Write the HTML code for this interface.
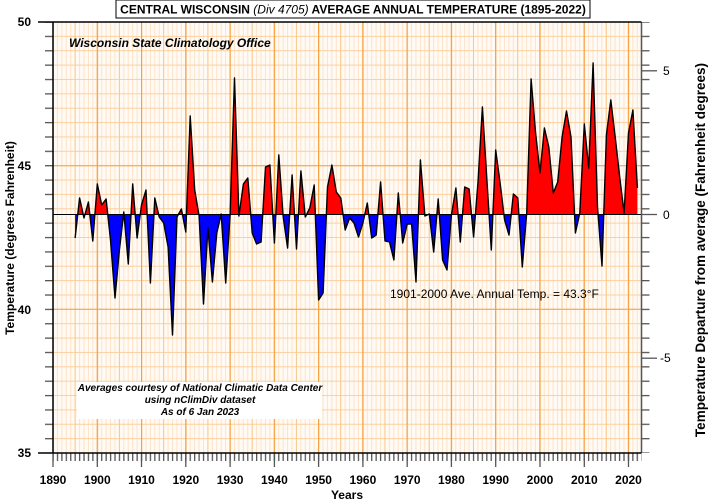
<!DOCTYPE html>
<html><head><meta charset="utf-8"><style>
html,body{margin:0;padding:0;background:#fff;}
svg{display:block;font-family:"Liberation Sans",Arial,sans-serif;}
</style></head><body>
<svg width="708" height="503" viewBox="0 0 708 503" xmlns="http://www.w3.org/2000/svg">
<defs>
<pattern id="v1" patternUnits="userSpaceOnUse" x="52.5" y="0" width="4.426" height="10"><rect x="0" y="0" width="1" height="10" fill="#fde3c8"/></pattern>
<pattern id="v5" patternUnits="userSpaceOnUse" x="52.5" y="0" width="22.13" height="10"><rect x="0" y="0" width="1" height="10" fill="#fbc88a"/></pattern>
<pattern id="v10" patternUnits="userSpaceOnUse" x="52.5" y="0" width="44.26" height="10"><rect x="0" y="0" width="1.2" height="10" fill="#f7a040"/></pattern>
<pattern id="h1" patternUnits="userSpaceOnUse" x="0" y="21.5" width="10" height="14.367"><rect x="0" y="0" width="10" height="1" fill="#fbd0a0"/></pattern>
<pattern id="tb" patternUnits="userSpaceOnUse" x="52.4" y="0" width="4.426" height="10"><rect x="0" y="0" width="1.3" height="10" fill="#555"/></pattern>
<pattern id="tl" patternUnits="userSpaceOnUse" x="0" y="21.4" width="10" height="14.367"><rect x="0" y="0" width="10" height="1.3" fill="#555"/></pattern>
<clipPath id="above"><rect x="53" y="0" width="590" height="214.5"/></clipPath>
<clipPath id="below"><rect x="53" y="214.5" width="590" height="300"/></clipPath>
</defs>
<rect width="708" height="503" fill="#fff"/>
<rect x="53" y="22" width="588.5" height="431" fill="#fffaf4"/>
<rect x="53" y="22" width="588.5" height="431" fill="url(#v1)"/>
<rect x="53" y="22" width="588.5" height="431" fill="url(#h1)"/>
<rect x="53" y="22" width="588.5" height="431" fill="url(#v5)"/>
<rect x="53" y="22" width="588.5" height="431" fill="url(#v10)"/>
<line x1="53" y1="165.7" x2="641.5" y2="165.7" stroke="#f7a040" stroke-width="1"/>
<line x1="53" y1="309.3" x2="641.5" y2="309.3" stroke="#f7a040" stroke-width="1"/>

<g id="data">
<polygon clip-path="url(#above)" fill="#ff0000" points="75.1,214.5 75.1,238 79.6,198 84.0,218 88.4,202 92.8,241 97.3,184 101.7,205 106.1,199 110.5,240 115.0,298 119.4,250 123.8,212 128.3,264 132.7,184 137.1,238 141.5,205 146.0,190 150.4,283 154.8,198 159.2,217 163.7,223 168.1,247 172.5,335 177.0,217 181.4,209 185.8,232 190.2,116 194.7,190 199.1,216 203.5,304 207.9,228 212.4,282 216.8,233 221.2,214 225.7,283 230.1,215 234.5,78 238.9,216 243.4,184 247.8,178 252.2,233 256.6,244 261.1,242 265.5,167 269.9,165 274.4,243 278.8,155 283.2,217 287.6,248 292.1,175 296.5,249 300.9,171 305.3,217 309.8,208 314.2,185 318.6,300 323.1,293 327.5,187 331.9,165 336.3,192 340.8,198 345.2,230 349.6,218 354.0,223 358.5,237 362.9,223 367.3,203 371.7,238 376.2,235 380.6,182 385.0,241 389.5,242 393.9,260 398.3,193 402.7,243 407.2,224 411.6,224 416.0,282 420.4,160 424.9,216 429.3,214 433.7,252 438.2,199 442.6,260 447.0,270 451.4,215 455.9,188 460.3,242 464.7,187 469.1,189 473.6,237 478.0,182 482.4,107 486.9,180 491.3,250 495.7,150 500.1,183 504.6,220 509.0,235 513.4,194 517.8,198 522.3,267 526.7,213 531.1,79 535.6,133 540.0,173 544.4,128 548.8,147 553.3,193 557.7,182 562.1,137 566.5,111 571.0,137 575.4,233 579.8,213 584.3,124 588.7,168 593.1,63 597.5,207 602.0,266 606.4,135 610.8,100 615.2,137 619.7,177 624.1,213 628.5,133 632.9,110 637.4,188 637.4,214.5"/>
<polygon clip-path="url(#below)" fill="#0000ff" points="75.1,214.5 75.1,238 79.6,198 84.0,218 88.4,202 92.8,241 97.3,184 101.7,205 106.1,199 110.5,240 115.0,298 119.4,250 123.8,212 128.3,264 132.7,184 137.1,238 141.5,205 146.0,190 150.4,283 154.8,198 159.2,217 163.7,223 168.1,247 172.5,335 177.0,217 181.4,209 185.8,232 190.2,116 194.7,190 199.1,216 203.5,304 207.9,228 212.4,282 216.8,233 221.2,214 225.7,283 230.1,215 234.5,78 238.9,216 243.4,184 247.8,178 252.2,233 256.6,244 261.1,242 265.5,167 269.9,165 274.4,243 278.8,155 283.2,217 287.6,248 292.1,175 296.5,249 300.9,171 305.3,217 309.8,208 314.2,185 318.6,300 323.1,293 327.5,187 331.9,165 336.3,192 340.8,198 345.2,230 349.6,218 354.0,223 358.5,237 362.9,223 367.3,203 371.7,238 376.2,235 380.6,182 385.0,241 389.5,242 393.9,260 398.3,193 402.7,243 407.2,224 411.6,224 416.0,282 420.4,160 424.9,216 429.3,214 433.7,252 438.2,199 442.6,260 447.0,270 451.4,215 455.9,188 460.3,242 464.7,187 469.1,189 473.6,237 478.0,182 482.4,107 486.9,180 491.3,250 495.7,150 500.1,183 504.6,220 509.0,235 513.4,194 517.8,198 522.3,267 526.7,213 531.1,79 535.6,133 540.0,173 544.4,128 548.8,147 553.3,193 557.7,182 562.1,137 566.5,111 571.0,137 575.4,233 579.8,213 584.3,124 588.7,168 593.1,63 597.5,207 602.0,266 606.4,135 610.8,100 615.2,137 619.7,177 624.1,213 628.5,133 632.9,110 637.4,188 637.4,214.5"/>
<polyline fill="none" stroke="#000" stroke-width="1.4" stroke-linejoin="round" points="75.1,238 79.6,198 84.0,218 88.4,202 92.8,241 97.3,184 101.7,205 106.1,199 110.5,240 115.0,298 119.4,250 123.8,212 128.3,264 132.7,184 137.1,238 141.5,205 146.0,190 150.4,283 154.8,198 159.2,217 163.7,223 168.1,247 172.5,335 177.0,217 181.4,209 185.8,232 190.2,116 194.7,190 199.1,216 203.5,304 207.9,228 212.4,282 216.8,233 221.2,214 225.7,283 230.1,215 234.5,78 238.9,216 243.4,184 247.8,178 252.2,233 256.6,244 261.1,242 265.5,167 269.9,165 274.4,243 278.8,155 283.2,217 287.6,248 292.1,175 296.5,249 300.9,171 305.3,217 309.8,208 314.2,185 318.6,300 323.1,293 327.5,187 331.9,165 336.3,192 340.8,198 345.2,230 349.6,218 354.0,223 358.5,237 362.9,223 367.3,203 371.7,238 376.2,235 380.6,182 385.0,241 389.5,242 393.9,260 398.3,193 402.7,243 407.2,224 411.6,224 416.0,282 420.4,160 424.9,216 429.3,214 433.7,252 438.2,199 442.6,260 447.0,270 451.4,215 455.9,188 460.3,242 464.7,187 469.1,189 473.6,237 478.0,182 482.4,107 486.9,180 491.3,250 495.7,150 500.1,183 504.6,220 509.0,235 513.4,194 517.8,198 522.3,267 526.7,213 531.1,79 535.6,133 540.0,173 544.4,128 548.8,147 553.3,193 557.7,182 562.1,137 566.5,111 571.0,137 575.4,233 579.8,213 584.3,124 588.7,168 593.1,63 597.5,207 602.0,266 606.4,135 610.8,100 615.2,137 619.7,177 624.1,213 628.5,133 632.9,110 637.4,188"/>
</g>
<line x1="53" y1="214.5" x2="641.5" y2="214.5" stroke="#000" stroke-width="1"/>

<!-- ticks -->
<rect x="52.4" y="453" width="589" height="8" fill="url(#tb)"/>
<g stroke="#555" stroke-width="1.3">
<line x1="53" y1="453" x2="53" y2="467"/><line x1="97.3" y1="453" x2="97.3" y2="467"/><line x1="141.5" y1="453" x2="141.5" y2="467"/><line x1="185.8" y1="453" x2="185.8" y2="467"/><line x1="230.1" y1="453" x2="230.1" y2="467"/><line x1="274.4" y1="453" x2="274.4" y2="467"/><line x1="318.6" y1="453" x2="318.6" y2="467"/><line x1="362.9" y1="453" x2="362.9" y2="467"/><line x1="407.2" y1="453" x2="407.2" y2="467"/><line x1="451.4" y1="453" x2="451.4" y2="467"/><line x1="495.7" y1="453" x2="495.7" y2="467"/><line x1="540" y1="453" x2="540" y2="467"/><line x1="584.3" y1="453" x2="584.3" y2="467"/><line x1="628.5" y1="453" x2="628.5" y2="467"/>
<line x1="641.5" y1="70.8" x2="657" y2="70.8"/><line x1="641.5" y1="214.5" x2="657" y2="214.5"/><line x1="641.5" y1="358.2" x2="657" y2="358.2"/>
</g>
<rect x="45" y="22" width="8" height="431" fill="url(#tl)"/>
<rect x="641.5" y="22" width="8" height="431" fill="url(#tl)"/>

<!-- axes -->
<line x1="53" y1="22" x2="53" y2="453" stroke="#000" stroke-width="1.5"/>
<line x1="641.5" y1="22" x2="641.5" y2="453" stroke="#555" stroke-width="1.5"/>
<line x1="38" y1="22" x2="641.5" y2="22" stroke="#000" stroke-width="1.5"/>
<line x1="38" y1="453" x2="641.5" y2="453" stroke="#000" stroke-width="1.5"/>

<g font-size="12" font-weight="bold" fill="#000">
<text x="31" y="26" text-anchor="end">50</text>
<text x="31" y="170" text-anchor="end">45</text>
<text x="31" y="314" text-anchor="end">40</text>
<text x="31" y="457" text-anchor="end">35</text>
</g>
<g font-size="12" fill="#000">
<text x="663" y="75">5</text>
<text x="663" y="219">0</text>
<text x="660" y="362">-5</text>
</g>
<g font-size="12" font-weight="bold" text-anchor="middle">
<text x="53" y="484">1890</text><text x="97.3" y="484">1900</text><text x="141.5" y="484">1910</text><text x="185.8" y="484">1920</text><text x="230.1" y="484">1930</text><text x="274.4" y="484">1940</text><text x="318.6" y="484">1950</text><text x="362.9" y="484">1960</text><text x="407.2" y="484">1970</text><text x="451.4" y="484">1980</text><text x="495.7" y="484">1990</text><text x="540" y="484">2000</text><text x="584.3" y="484">2010</text><text x="628.5" y="484">2020</text>
</g>
<text x="347" y="499" font-size="12" font-weight="bold" text-anchor="middle">Years</text>
<text transform="translate(14,238) rotate(-90)" font-size="12" font-weight="bold" text-anchor="middle">Temperature  (degrees Fahrenheit)</text>
<text transform="translate(705,250) rotate(-90)" font-size="13.5" font-weight="bold" text-anchor="middle">Temperature Departure from average (Fahrenheit degrees)</text>
<rect x="116" y="0" width="474" height="18" fill="#fff" stroke="#000" stroke-width="1"/>
<text x="353" y="13.5" font-size="12" font-weight="bold" text-anchor="middle">CENTRAL WISCONSIN <tspan font-weight="normal" font-style="italic">(Div 4705)</tspan> AVERAGE  ANNUAL TEMPERATURE (1895-2022)</text>
<text x="69" y="47" font-size="12" font-weight="bold" font-style="italic">Wisconsin State Climatology Office</text>
<text x="390" y="298" font-size="12">1901-2000 Ave. Annual Temp. = 43.3°F</text>
<rect x="77" y="382" width="245" height="37" fill="#fff"/>
<g font-size="10" font-weight="bold" font-style="italic" text-anchor="middle">
<text x="200" y="391">Averages courtesy of National Climatic Data Center</text>
<text x="200" y="403">using nClimDiv dataset</text>
<text x="200" y="415">As of 6 Jan  2023</text>
</g>
</svg>
</body></html>
